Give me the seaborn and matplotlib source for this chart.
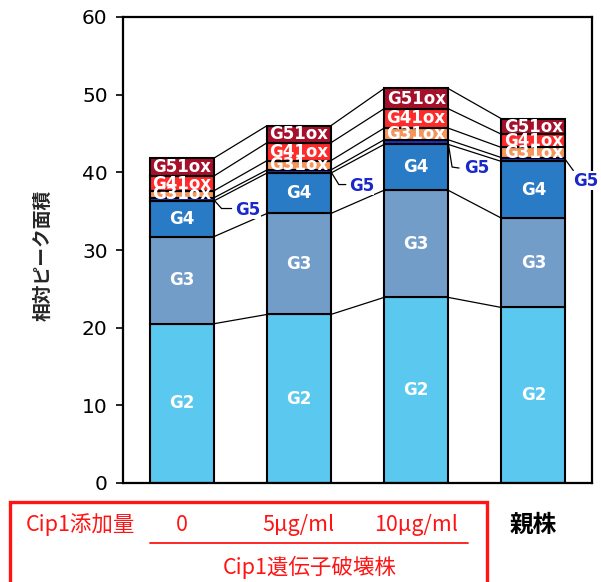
import matplotlib
matplotlib.use("Agg")
import matplotlib.pyplot as plt
import matplotlib.transforms as mtransforms
from matplotlib.patches import Rectangle
from matplotlib.lines import Line2D
import seaborn as sns
import numpy as np

# ---- data -------------------------------------------------------------
strains = ["Cip1_0", "Cip1_5", "Cip1_10", "parent"]
dose_labels = ["0", "5μg/ml", "10μg/ml"]
parent_label = "親株"
dose_header = "Cip1添加量"
group_label = "Cip1遺伝子破壊株"
y_label = "相対ピーク面積"
y_ticks = [0, 10, 20, 30, 40, 50, 60]

layer_names = ["G2", "G3", "G4", "G5", "G31ox", "G41ox", "G51ox"]
g2 = [20.5, 21.7, 23.9, 22.6]
g3 = [11.2, 13.0, 13.8, 11.5]
g4 = [4.6, 5.2, 5.9, 7.3]
g5 = [0.4, 0.4, 0.6, 0.5]
g31ox = [0.9, 1.2, 1.5, 1.3]
g41ox = [1.9, 2.3, 2.5, 1.7]
g51ox = [2.3, 2.2, 2.6, 2.0]
layers = [g2, g3, g4, g5, g31ox, g41ox, g51ox]

colors = ["#5BC8EF", "#739DC9", "#2A7BC6", "#1E32C4",
          "#F5955A", "#FF2A2A", "#A50F2A"]

# ---- style ------------------------------------------------------------
sns.set_theme(style="white")
plt.rcParams["font.family"] = ["DejaVu Sans", "Noto Sans CJK JP"]
jp_font = ["Noto Sans CJK JP", "DejaVu Sans"]
red = "#FF1414"

W, H = 601, 582
fig = plt.figure(figsize=(W / 100, H / 100), dpi=100)
ax_left, ax_right, ax_top, ax_bottom = 123, 592, 17, 483
ax = fig.add_axes([ax_left / W, 1 - ax_bottom / H,
                   (ax_right - ax_left) / W, (ax_bottom - ax_top) / H])

bar_w = 0.545
n = len(strains)
bottom = np.zeros(n)
tops = []
for name, vals, col in zip(layer_names, layers, colors):
    vals = np.asarray(vals, dtype=float)
    sns.barplot(x=strains, y=vals, bottom=bottom, color=col, saturation=1,
                width=bar_w, edgecolor="black", linewidth=1.5,
                errorbar=None, ax=ax, zorder=2)
    if name != "G5":
        for i in range(n):
            ax.text(i, bottom[i] + vals[i] / 2, name, color="white",
                    fontsize=12, fontweight="bold", ha="center",
                    va="center", zorder=4)
    bottom = bottom + vals
    tops.append(bottom.copy())

# series lines joining the segment tops of neighbouring bars
for lvl in tops:
    for i in range(n - 1):
        ax.add_line(Line2D([i + bar_w / 2, i + 1 - bar_w / 2],
                           [lvl[i], lvl[i + 1]], color="black",
                           lw=0.9, zorder=1))

ax.set_xlim(-0.5, n - 0.5)
ax.set_ylim(0, 60)
ax.set_yticks(y_ticks)
ax.set_yticklabels([str(t) for t in y_ticks], fontsize=14.5)
ax.set_xticks([])
ax.set_xlabel("")
ax.set_ylabel("")
ax.tick_params(axis="y", direction="out", length=5, width=1.2, left=True,
               pad=6, colors="black")
for sp in ax.spines.values():
    sp.set_visible(True)
    sp.set_color("black")
    sp.set_linewidth(1.6)

# G5 call-outs: leader path offsets in pixels (right, down) and text offset
px_x = (n) / (ax_right - ax_left)
px_y = 60 / (ax_bottom - ax_top)
g5_leaders = [
    ([(0, 0), (8, 9), (18, 9)], (22, 10)),
    ([(0, 0), (8, 13), (15, 13)], (18, 14)),
    ([(0, 0), (4, 25), (11, 26)], (16, 26)),
    ([(0, 0), (8, 11)], (8, 21)),
]
g5_mid = np.asarray(tops[2]) + np.asarray(g5) / 2
for i, (path, txt) in enumerate(g5_leaders):
    x0 = i + bar_w / 2
    xs = [x0 + dx * px_x for dx, dy in path]
    ys = [g5_mid[i] - dy * px_y for dx, dy in path]
    ax.add_line(Line2D(xs, ys, color="black", lw=0.9, zorder=3,
                       clip_on=False))
    ax.text(x0 + txt[0] * px_x, g5_mid[i] - txt[1] * px_y, "G5",
            color="#1A28C8", fontsize=12, fontweight="bold", ha="left",
            va="center", zorder=5, clip_on=False,
            bbox=dict(facecolor="white", edgecolor="none", pad=0.3))

# ---- category annotation under the axis ------------------------------
tr = mtransforms.blended_transform_factory(ax.transData, fig.transFigure)
row_y = 1 - 525 / H
for i, lab in enumerate(dose_labels):
    ax.text(i, row_y, lab, transform=tr, color=red, fontsize=15.5,
            family=jp_font, ha="center", va="center")
ax.text(3, row_y, parent_label, transform=tr, color="black", fontsize=17,
        fontweight="bold", family=jp_font, ha="center", va="center")
fig.text(80 / W, row_y, dose_header, color=red, fontsize=15.5,
         family=jp_font, ha="center", va="center")
fig.text(310 / W, 1 - 567 / H, group_label, color=red, fontsize=15.5,
         family=jp_font, ha="center", va="center")
fig.add_artist(Line2D([150 / W, 468 / W], [1 - 543 / H, 1 - 543 / H],
                      color=red, lw=1.3, transform=fig.transFigure))
fig.add_artist(Rectangle((10 / W, -0.05), (487 - 10) / W, 0.05 + 1 - 502 / H,
                         transform=fig.transFigure, fill=False,
                         edgecolor=red, lw=2.4, clip_on=False))

fig.text(43 / W, 1 - 255 / H, y_label, rotation=90, fontsize=13.5,
         fontweight="bold", family=jp_font, ha="center", va="center")

fig.savefig("out.png", dpi=100)
